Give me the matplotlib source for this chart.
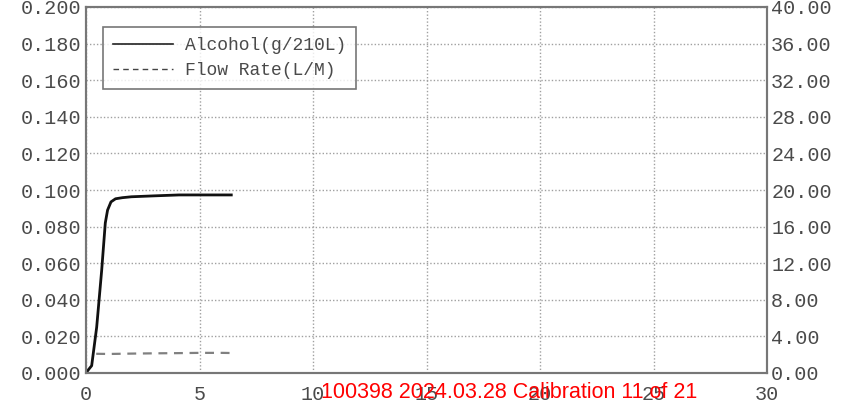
import matplotlib.pyplot as plt
import numpy as np

# alcohol curve (g/210L), left axis
alc_t = [0.0, 0.12, 0.25, 0.47, 0.69, 0.85, 0.95, 1.1, 1.3, 1.6, 2.0, 3.0, 4.1, 5.0, 6.4]
alc_v = [0.0, 0.002, 0.004, 0.025, 0.056, 0.082, 0.089, 0.0935, 0.0952, 0.0958, 0.0963, 0.0968, 0.0973, 0.0973, 0.0973]

# flow rate (L/M), right axis
flow_t = [0.45, 1.0, 2.0, 3.0, 4.0, 5.0, 6.0, 6.5]
flow_v = [2.10, 2.08, 2.12, 2.15, 2.17, 2.20, 2.20, 2.18]

xticks = [0, 5, 10, 15, 20, 25, 30]
yticks_left = np.arange(0, 0.2001, 0.02)
yticks_right = np.arange(0, 40.01, 4)

mono = 'Liberation Mono'
txtcol = '#4a4a4a'

fig = plt.figure(figsize=(8.49, 4.04), dpi=100)
ax = fig.add_axes([86/849, 31/404, 681/849, 366/404])
ax2 = ax.twinx()

ax.plot(alc_t, alc_v, color='#111111', lw=2)
ax2.plot(flow_t, flow_v, color='#808080', lw=1.6, ls=(0, (4, 3)))
# proxies so both entries sit in one legend, drawn thinner like the original
ax.plot([], [], color='#222222', lw=1.2, label='Alcohol(g/210L)')
ax.plot([], [], color='#444444', lw=1, ls=(0, (4, 3)), label='Flow Rate(L/M)')

ax.set_xlim(0, 30)
ax.set_ylim(0, 0.2)
ax2.set_ylim(0, 40)
ax.set_xticks(xticks)
ax.set_yticks(yticks_left)
ax2.set_yticks(yticks_right)
ax.set_yticklabels(['%.3f' % v for v in yticks_left])
ax2.set_yticklabels(['%.2f' % v for v in yticks_right])
ax.set_xticklabels([str(v) for v in xticks])

for a in (ax, ax2):
    a.tick_params(length=0, labelsize=14.5, colors=txtcol, pad=3)
    for lab in a.get_xticklabels() + a.get_yticklabels():
        lab.set_fontfamily(mono)
    for s in a.spines.values():
        s.set_color('#777777')
        s.set_linewidth(1.5)
ax.tick_params(axis='x', pad=9)

ax.grid(True, color='#a0a0a0', ls=(0, (1, 1.5)), lw=1)

leg = ax.legend(loc='upper left', bbox_to_anchor=(17/681, 1 - 20/366), prop={'family': mono, 'size': 13},
                frameon=True, fancybox=False, edgecolor='#555555', borderpad=0.55, handlelength=3.3,
                handletextpad=0.7, labelspacing=0.45, borderaxespad=0)
leg.get_frame().set_linewidth(1.2)
for t in leg.get_texts():
    t.set_color(txtcol)

fig.text(509/849, 1 - 393/404, '100398 2024.03.28 Calibration 11 of 21', color='red',
         fontsize=15.5, family='Liberation Sans', ha='center', va='center')

fig.savefig('out.png', dpi=100)
